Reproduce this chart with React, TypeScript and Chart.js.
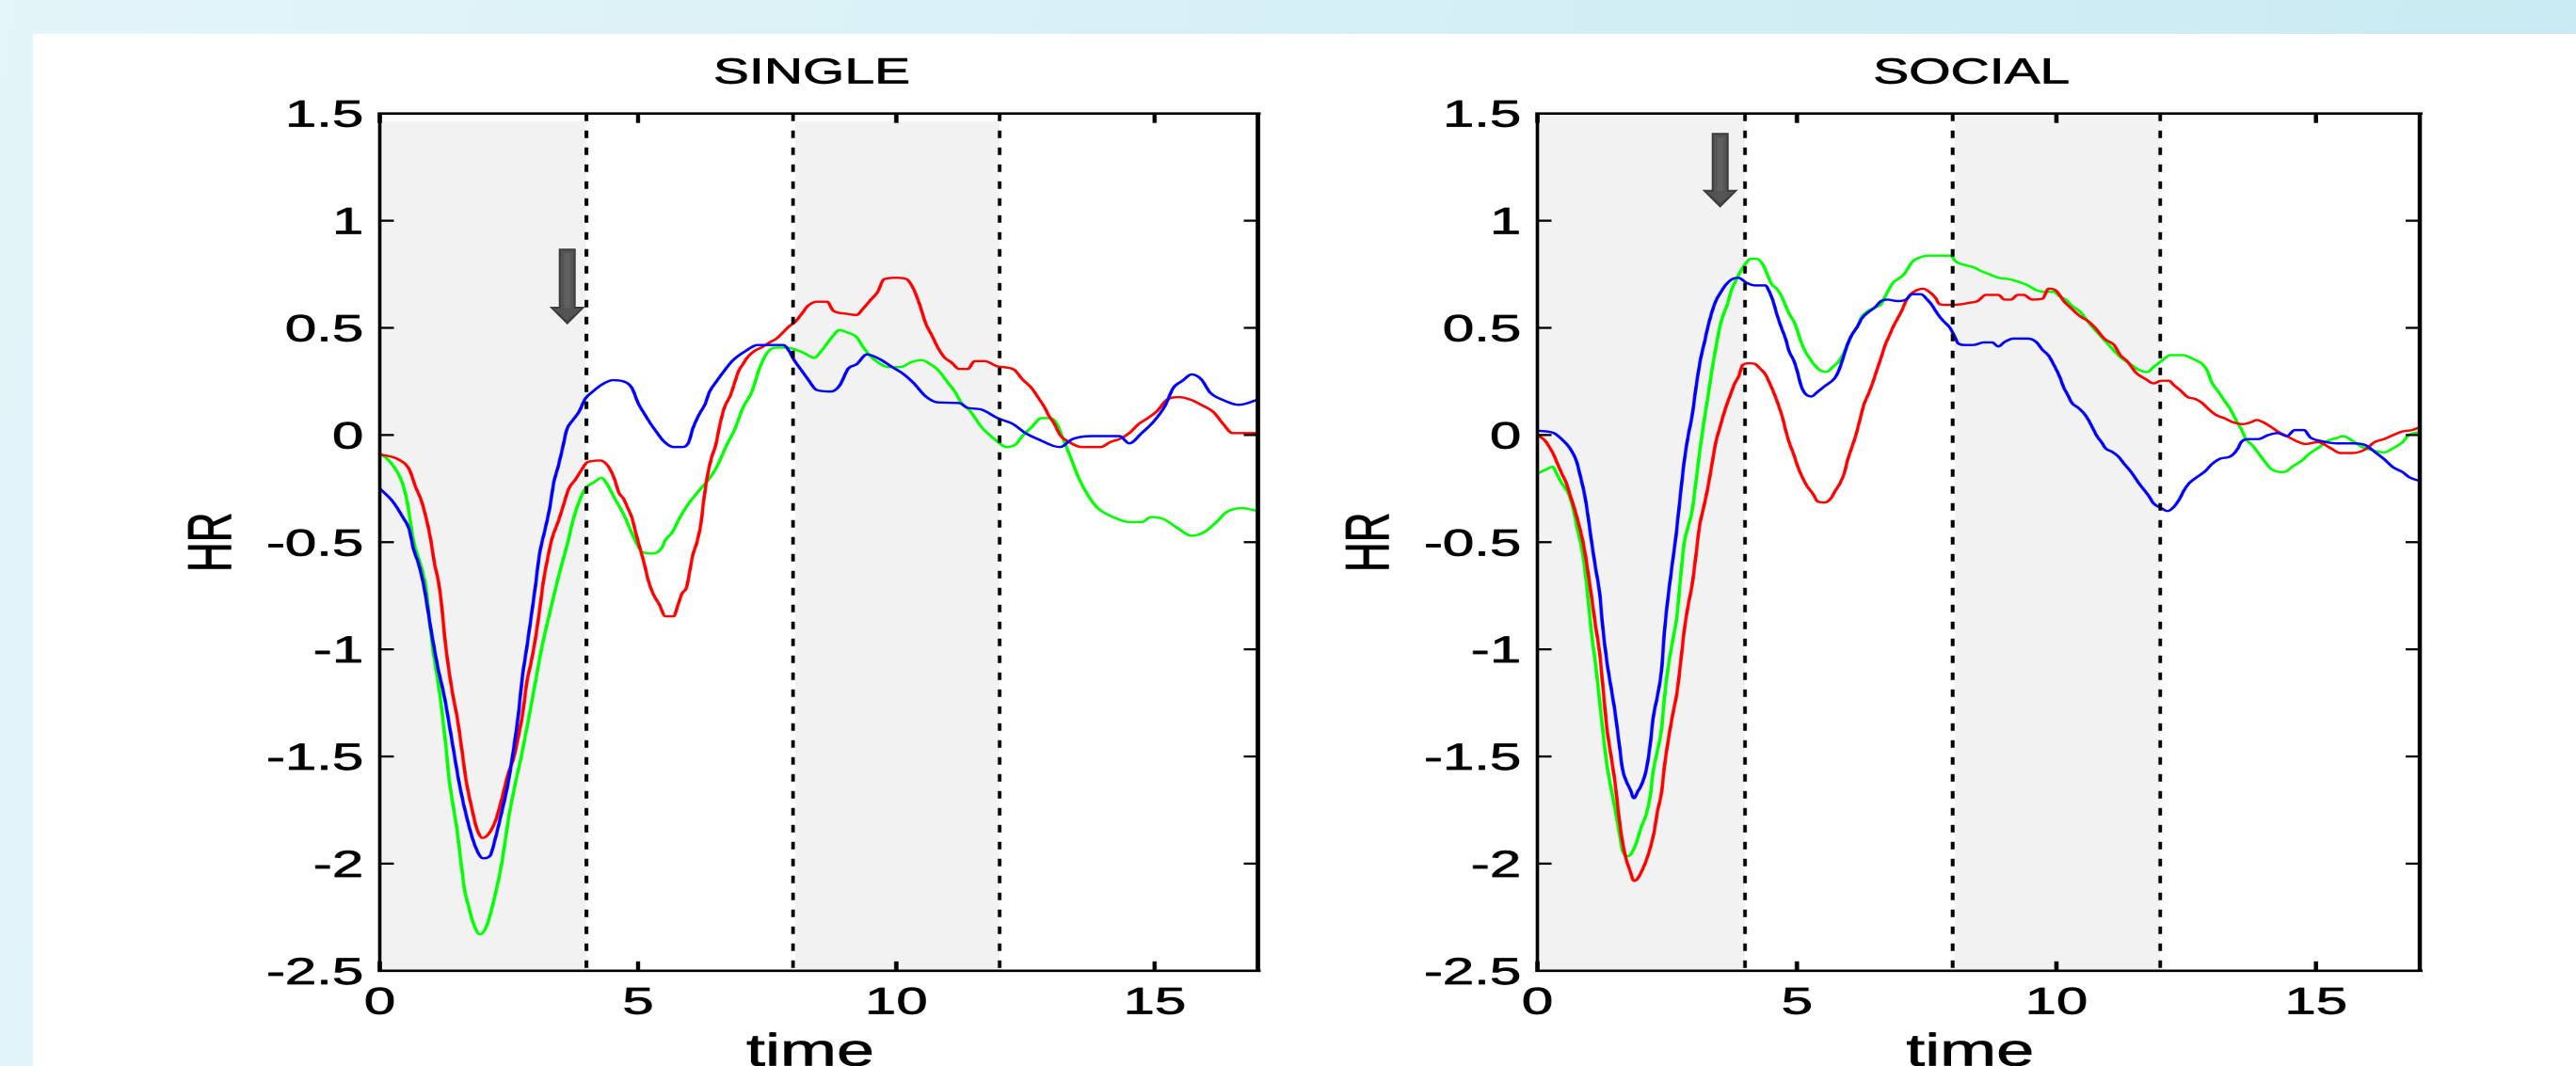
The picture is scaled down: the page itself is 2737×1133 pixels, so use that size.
import React, { useEffect, useRef } from 'react';
import { Chart, registerables } from 'chart.js';

Chart.register(...registerables);

// ---------------- data ----------------
type Pair = [number, number];

const X_TICKS = [0, 5, 10, 15];
const X_TICK_LABELS = ['0', '5', '10', '15'];
const Y_TICKS = [-2.5, -2, -1.5, -1, -0.5, 0, 0.5, 1, 1.5];
const Y_TICK_LABELS = ['-2.5', '-2', '-1.5', '-1', '-0.5', '0', '0.5', '1', '1.5'];
const X_RANGE = [0, 17];
const Y_RANGE = [-2.5, 1.5];
const PHASE_BOUNDARIES = [4, 8, 12];
const SHADED_PHASES: Pair[] = [[0, 4], [8, 12]];
const TITLES = ['SINGLE', 'SOCIAL'];
const X_LABEL = 'time';
const Y_LABEL = 'HR';
// arrow: [x, top y, tip y]
const ARROW_SINGLE = [3.63, 0.87, 0.515];
const ARROW_SOCIAL = [3.52, 1.41, 1.061];
const SHADE_TOP = [1.465, 1.49];

const singleBlue: Pair[] = [[0,-0.25],[0.25,-0.31],[0.45,-0.385],[0.57,-0.44],[0.65,-0.53],[0.75,-0.6],[0.85,-0.7],[1.0,-0.92],[1.12,-1.08],[1.25,-1.22],[1.4,-1.43],[1.55,-1.64],[1.7,-1.8],[1.85,-1.92],[2.0,-1.975],[2.13,-1.965],[2.24,-1.88],[2.36,-1.76],[2.48,-1.63],[2.6,-1.45],[2.68,-1.31],[2.76,-1.13],[2.85,-0.985],[2.93,-0.85],[3.01,-0.71],[3.09,-0.56],[3.21,-0.43],[3.29,-0.34],[3.37,-0.22],[3.45,-0.15],[3.54,-0.06],[3.62,0.025],[3.74,0.07],[3.86,0.11],[3.98,0.17],[4.11,0.2],[4.31,0.237],[4.51,0.256],[4.72,0.25],[4.88,0.22],[5.0,0.15],[5.12,0.1],[5.24,0.054],[5.37,0.01],[5.49,-0.027],[5.69,-0.056],[5.85,-0.056],[5.98,-0.034],[6.06,0.03],[6.18,0.095],[6.3,0.145],[6.38,0.2],[6.5,0.244],[6.67,0.3],[6.83,0.347],[7.07,0.39],[7.32,0.42],[7.64,0.42],[7.81,0.42],[7.93,0.39],[8.01,0.354],[8.17,0.3],[8.29,0.26],[8.46,0.21],[8.74,0.203],[8.9,0.23],[9.07,0.31],[9.23,0.33],[9.43,0.376],[9.68,0.354],[9.92,0.317],[10.12,0.288],[10.33,0.244],[10.57,0.18],[10.81,0.152],[11.22,0.149],[11.38,0.127],[11.63,0.12],[11.96,0.079],[12.26,0.051],[12.5,0.009],[12.74,-0.019],[13.17,-0.056],[13.41,-0.019],[13.78,-0.005],[14.32,-0.005],[14.51,-0.039],[14.75,0.009],[14.99,0.065],[15.2,0.135],[15.36,0.219],[15.54,0.253],[15.72,0.283],[15.9,0.261],[16.08,0.197],[16.33,0.163],[16.63,0.141],[17,0.165]];

const singleRed: Pair[] = [[0,-0.09],[0.37,-0.115],[0.57,-0.16],[0.69,-0.24],[0.81,-0.31],[0.91,-0.4],[0.98,-0.48],[1.06,-0.6],[1.14,-0.69],[1.2,-0.8],[1.26,-0.95],[1.34,-1.1],[1.42,-1.22],[1.5,-1.32],[1.59,-1.47],[1.67,-1.61],[1.79,-1.75],[1.87,-1.83],[1.99,-1.88],[2.11,-1.86],[2.24,-1.8],[2.36,-1.7],[2.48,-1.585],[2.6,-1.5],[2.68,-1.41],[2.76,-1.31],[2.85,-1.15],[2.93,-1.06],[3.01,-0.955],[3.09,-0.824],[3.17,-0.68],[3.25,-0.575],[3.33,-0.487],[3.46,-0.4],[3.54,-0.34],[3.66,-0.25],[3.78,-0.21],[3.9,-0.165],[4.0,-0.13],[4.11,-0.122],[4.27,-0.119],[4.39,-0.136],[4.47,-0.165],[4.55,-0.21],[4.63,-0.27],[4.72,-0.297],[4.8,-0.34],[4.88,-0.385],[4.96,-0.46],[5.04,-0.53],[5.12,-0.6],[5.2,-0.68],[5.29,-0.74],[5.41,-0.79],[5.53,-0.846],[5.69,-0.846],[5.77,-0.795],[5.85,-0.74],[5.94,-0.71],[5.99,-0.65],[6.06,-0.56],[6.14,-0.5],[6.22,-0.41],[6.26,-0.327],[6.34,-0.195],[6.42,-0.107],[6.5,-0.05],[6.59,0.054],[6.67,0.127],[6.79,0.186],[6.87,0.244],[6.95,0.3],[7.03,0.33],[7.11,0.36],[7.24,0.39],[7.4,0.41],[7.56,0.434],[7.68,0.45],[7.81,0.48],[7.93,0.508],[8.05,0.53],[8.17,0.566],[8.29,0.603],[8.46,0.622],[8.66,0.622],[8.78,0.58],[9.03,0.566],[9.23,0.56],[9.35,0.588],[9.51,0.632],[9.64,0.668],[9.76,0.727],[10.0,0.734],[10.2,0.727],[10.33,0.683],[10.45,0.61],[10.57,0.52],[10.69,0.464],[10.81,0.405],[10.94,0.36],[11.06,0.34],[11.22,0.308],[11.38,0.308],[11.52,0.345],[11.71,0.345],[11.96,0.32],[12.08,0.317],[12.29,0.303],[12.44,0.26],[12.62,0.219],[12.74,0.177],[12.87,0.129],[12.96,0.087],[13.05,0.056],[13.17,0.0],[13.35,-0.033],[13.59,-0.056],[13.96,-0.056],[14.14,-0.033],[14.32,-0.019],[14.51,0.009],[14.69,0.051],[14.87,0.079],[15.05,0.112],[15.23,0.163],[15.48,0.177],[15.72,0.163],[15.9,0.141],[16.14,0.107],[16.33,0.051],[16.51,0.009],[17,0.009]];

const singleGreen: Pair[] = [[0,-0.085],[0.16,-0.115],[0.28,-0.15],[0.39,-0.195],[0.47,-0.25],[0.53,-0.31],[0.59,-0.4],[0.65,-0.49],[0.73,-0.56],[0.81,-0.62],[0.9,-0.72],[0.96,-0.86],[1.04,-1.02],[1.12,-1.14],[1.2,-1.28],[1.28,-1.45],[1.34,-1.6],[1.42,-1.73],[1.5,-1.85],[1.57,-1.99],[1.64,-2.12],[1.72,-2.2],[1.8,-2.27],[1.94,-2.33],[2.07,-2.29],[2.2,-2.18],[2.36,-2.0],[2.5,-1.78],[2.62,-1.63],[2.74,-1.5],[2.9,-1.3],[3.0,-1.17],[3.13,-1.0],[3.3,-0.82],[3.45,-0.67],[3.64,-0.5],[3.75,-0.39],[3.86,-0.31],[3.98,-0.25],[4.15,-0.22],[4.29,-0.2],[4.39,-0.225],[4.55,-0.297],[4.72,-0.37],[4.88,-0.458],[4.96,-0.5],[5.08,-0.546],[5.29,-0.553],[5.45,-0.53],[5.53,-0.49],[5.65,-0.458],[5.81,-0.385],[5.98,-0.32],[6.18,-0.26],[6.42,-0.19],[6.55,-0.136],[6.71,-0.05],[6.87,0.025],[7.03,0.127],[7.2,0.2],[7.36,0.317],[7.52,0.39],[7.68,0.408],[7.88,0.408],[8.05,0.398],[8.21,0.383],[8.41,0.36],[8.54,0.39],[8.66,0.427],[8.78,0.464],[8.9,0.49],[9.03,0.48],[9.23,0.457],[9.35,0.413],[9.47,0.376],[9.6,0.347],[9.84,0.317],[10.08,0.317],[10.29,0.34],[10.49,0.35],[10.65,0.332],[10.81,0.303],[10.98,0.25],[11.14,0.2],[11.26,0.149],[11.42,0.115],[11.65,0.037],[11.9,-0.019],[12.14,-0.056],[12.32,-0.042],[12.44,-0.005],[12.62,0.037],[12.81,0.079],[12.99,0.079],[13.11,0.051],[13.23,-0.019],[13.35,-0.089],[13.53,-0.2],[13.72,-0.285],[13.9,-0.341],[14.2,-0.383],[14.51,-0.406],[14.75,-0.406],[14.93,-0.383],[15.17,-0.392],[15.42,-0.43],[15.72,-0.47],[15.96,-0.453],[16.21,-0.403],[16.39,-0.36],[16.69,-0.341],[17,-0.355]];

const socialBlue: Pair[] = [[0,0.02],[0.31,0.01],[0.47,-0.02],[0.63,-0.063],[0.75,-0.12],[0.83,-0.195],[0.91,-0.28],[0.97,-0.37],[1.05,-0.51],[1.12,-0.62],[1.2,-0.74],[1.26,-0.9],[1.34,-1.06],[1.42,-1.18],[1.5,-1.3],[1.58,-1.45],[1.64,-1.56],[1.72,-1.62],[1.79,-1.655],[1.86,-1.695],[1.93,-1.665],[2.0,-1.635],[2.09,-1.57],[2.17,-1.45],[2.23,-1.32],[2.31,-1.22],[2.39,-1.1],[2.45,-0.91],[2.53,-0.73],[2.61,-0.58],[2.67,-0.47],[2.75,-0.29],[2.83,-0.12],[2.9,-0.01],[2.98,0.09],[3.06,0.23],[3.14,0.35],[3.22,0.435],[3.28,0.5],[3.37,0.58],[3.45,0.632],[3.53,0.665],[3.62,0.698],[3.75,0.727],[3.87,0.734],[4.03,0.71],[4.19,0.698],[4.39,0.698],[4.47,0.668],[4.54,0.625],[4.61,0.566],[4.69,0.508],[4.78,0.45],[4.85,0.39],[4.94,0.347],[5.0,0.303],[5.08,0.23],[5.16,0.193],[5.28,0.18],[5.39,0.2],[5.53,0.227],[5.73,0.266],[5.81,0.303],[5.89,0.36],[5.97,0.42],[6.05,0.464],[6.17,0.508],[6.25,0.544],[6.38,0.574],[6.5,0.595],[6.62,0.625],[6.74,0.632],[6.94,0.625],[7.1,0.632],[7.22,0.657],[7.39,0.657],[7.51,0.632],[7.59,0.61],[7.67,0.58],[7.75,0.552],[7.83,0.53],[7.95,0.5],[8.03,0.464],[8.11,0.427],[8.24,0.42],[8.4,0.42],[8.6,0.432],[8.76,0.432],[8.88,0.413],[9.0,0.434],[9.17,0.45],[9.45,0.45],[9.61,0.434],[9.73,0.398],[9.85,0.37],[9.94,0.332],[10.06,0.273],[10.14,0.222],[10.22,0.186],[10.3,0.149],[10.42,0.127],[10.54,0.098],[10.62,0.069],[10.7,0.032],[10.78,-0.005],[10.87,-0.034],[10.95,-0.063],[11.07,-0.078],[11.19,-0.1],[11.31,-0.136],[11.43,-0.17],[11.6,-0.229],[11.78,-0.285],[11.87,-0.319],[12.02,-0.341],[12.14,-0.355],[12.26,-0.336],[12.37,-0.299],[12.46,-0.257],[12.56,-0.224],[12.68,-0.201],[12.87,-0.168],[12.99,-0.137],[13.17,-0.109],[13.32,-0.103],[13.41,-0.089],[13.5,-0.061],[13.56,-0.033],[13.71,-0.019],[13.89,-0.019],[14.08,0.0],[14.26,0.009],[14.44,-0.005],[14.59,0.023],[14.77,0.023],[14.89,-0.011],[15.1,-0.028],[15.4,-0.039],[15.71,-0.039],[15.95,-0.047],[16.16,-0.084],[16.31,-0.112],[16.49,-0.151],[16.67,-0.173],[16.79,-0.196],[17,-0.215]];

const socialRed: Pair[] = [[0,0.0],[0.15,-0.027],[0.23,-0.056],[0.31,-0.09],[0.39,-0.136],[0.47,-0.18],[0.55,-0.22],[0.63,-0.28],[0.71,-0.34],[0.79,-0.41],[0.87,-0.49],[0.95,-0.6],[1.04,-0.75],[1.12,-0.89],[1.2,-1.02],[1.26,-1.17],[1.34,-1.37],[1.42,-1.5],[1.5,-1.63],[1.57,-1.78],[1.64,-1.9],[1.71,-1.98],[1.78,-2.03],[1.86,-2.08],[1.93,-2.07],[2.0,-2.04],[2.09,-1.99],[2.17,-1.93],[2.25,-1.85],[2.31,-1.76],[2.39,-1.67],[2.45,-1.54],[2.53,-1.41],[2.61,-1.3],[2.69,-1.2],[2.76,-1.06],[2.83,-0.91],[2.9,-0.8],[2.98,-0.7],[3.06,-0.55],[3.12,-0.43],[3.2,-0.34],[3.28,-0.25],[3.36,-0.14],[3.44,-0.03],[3.51,0.03],[3.58,0.09],[3.66,0.15],[3.73,0.195],[3.8,0.24],[3.88,0.275],[3.95,0.325],[4.07,0.335],[4.19,0.332],[4.29,0.31],[4.39,0.284],[4.47,0.244],[4.55,0.2],[4.63,0.149],[4.72,0.083],[4.78,0.025],[4.85,-0.034],[4.94,-0.092],[5.02,-0.15],[5.1,-0.195],[5.2,-0.24],[5.31,-0.275],[5.4,-0.31],[5.53,-0.315],[5.65,-0.297],[5.74,-0.26],[5.83,-0.225],[5.91,-0.18],[5.97,-0.122],[6.05,-0.063],[6.13,-0.005],[6.21,0.068],[6.29,0.142],[6.38,0.193],[6.46,0.244],[6.54,0.303],[6.62,0.36],[6.7,0.42],[6.78,0.464],[6.86,0.508],[6.94,0.544],[7.02,0.58],[7.1,0.625],[7.18,0.654],[7.31,0.676],[7.43,0.683],[7.55,0.668],[7.67,0.64],[7.75,0.61],[7.91,0.607],[8.16,0.61],[8.32,0.617],[8.48,0.625],[8.64,0.654],[8.88,0.654],[9.0,0.632],[9.13,0.632],[9.25,0.654],[9.37,0.654],[9.53,0.632],[9.73,0.636],[9.85,0.683],[9.98,0.676],[10.06,0.654],[10.14,0.625],[10.26,0.597],[10.45,0.555],[10.6,0.533],[10.75,0.499],[10.93,0.448],[11.11,0.42],[11.23,0.373],[11.36,0.345],[11.54,0.289],[11.72,0.261],[11.87,0.241],[12.02,0.253],[12.17,0.253],[12.26,0.233],[12.38,0.21],[12.53,0.177],[12.68,0.168],[12.81,0.149],[12.93,0.121],[13.08,0.093],[13.23,0.079],[13.41,0.059],[13.59,0.051],[13.74,0.059],[13.86,0.07],[14.01,0.056],[14.14,0.037],[14.26,0.017],[14.44,-0.005],[14.62,-0.028],[14.8,-0.042],[15.04,-0.033],[15.28,-0.061],[15.47,-0.084],[15.71,-0.084],[15.95,-0.067],[16.13,-0.033],[16.31,-0.019],[16.49,0.0],[16.67,0.017],[16.85,0.023],[17,0.037]];

const socialGreen: Pair[] = [[0,-0.18],[0.19,-0.158],[0.29,-0.148],[0.37,-0.18],[0.45,-0.217],[0.53,-0.246],[0.61,-0.28],[0.7,-0.356],[0.76,-0.43],[0.83,-0.5],[0.9,-0.6],[0.97,-0.75],[1.04,-0.92],[1.12,-1.07],[1.18,-1.2],[1.26,-1.38],[1.34,-1.54],[1.42,-1.65],[1.5,-1.75],[1.58,-1.86],[1.64,-1.94],[1.75,-1.965],[1.86,-1.93],[1.93,-1.885],[2.0,-1.83],[2.09,-1.775],[2.17,-1.69],[2.23,-1.57],[2.31,-1.475],[2.39,-1.375],[2.45,-1.22],[2.53,-1.065],[2.61,-0.955],[2.69,-0.84],[2.76,-0.66],[2.83,-0.5],[2.9,-0.43],[2.98,-0.355],[3.04,-0.245],[3.12,-0.09],[3.2,0.05],[3.28,0.17],[3.36,0.3],[3.44,0.41],[3.51,0.5],[3.58,0.56],[3.66,0.61],[3.73,0.67],[3.8,0.71],[3.88,0.749],[3.99,0.793],[4.11,0.822],[4.23,0.822],[4.35,0.793],[4.43,0.749],[4.51,0.705],[4.61,0.683],[4.69,0.654],[4.77,0.61],[4.85,0.566],[4.94,0.53],[5.0,0.493],[5.08,0.434],[5.16,0.39],[5.24,0.36],[5.32,0.332],[5.44,0.303],[5.57,0.295],[5.69,0.317],[5.79,0.34],[5.89,0.376],[5.97,0.42],[6.05,0.464],[6.17,0.508],[6.25,0.552],[6.38,0.58],[6.5,0.595],[6.62,0.61],[6.7,0.647],[6.78,0.683],[6.86,0.713],[6.94,0.727],[7.06,0.749],[7.14,0.778],[7.22,0.808],[7.35,0.827],[7.55,0.837],[7.95,0.837],[8.07,0.808],[8.24,0.793],[8.4,0.783],[8.56,0.764],[8.72,0.749],[8.88,0.734],[9.09,0.727],[9.29,0.713],[9.45,0.698],[9.61,0.676],[9.77,0.668],[9.94,0.668],[10.06,0.647],[10.18,0.632],[10.3,0.603],[10.45,0.577],[10.66,0.513],[10.87,0.457],[11.05,0.409],[11.23,0.364],[11.42,0.331],[11.6,0.303],[11.75,0.294],[11.87,0.317],[12.02,0.345],[12.2,0.373],[12.44,0.373],[12.65,0.353],[12.81,0.331],[12.9,0.303],[12.99,0.247],[13.11,0.205],[13.23,0.163],[13.35,0.121],[13.47,0.065],[13.56,0.028],[13.65,-0.019],[13.77,-0.047],[13.89,-0.084],[14.01,-0.123],[14.14,-0.159],[14.38,-0.173],[14.56,-0.145],[14.74,-0.117],[14.86,-0.089],[15.04,-0.061],[15.22,-0.028],[15.4,-0.014],[15.52,-0.005],[15.71,-0.028],[15.89,-0.056],[16.07,-0.07],[16.31,-0.081],[16.49,-0.061],[16.67,-0.033],[16.79,0.0],[17,0.014]];

// ---------------- styling / layout ----------------
const FONT = "'Liberation Sans', Arial, Helvetica, sans-serif";
const STRETCH = 1.5; // the source figure is stretched horizontally
const CANVAS_W = 912;
const CANVAS_H = 1133;
const COLORS = { blue: '#0000ff', red: '#ff0000', green: '#00ff00' };

interface PanelSpec {
  title: string;
  blue: Pair[];
  red: Pair[];
  green: Pair[];
  arrow: number[];
  shadeTop: number;
  cssLeft: number;
  pad: { left: number; right: number; top: number; bottom: number };
}

const PANELS: PanelSpec[] = [
  { title: TITLES[0], blue: singleBlue, red: singleRed, green: singleGreen, arrow: ARROW_SINGLE, shadeTop: SHADE_TOP[0], cssLeft: 0,
    pad: { left: 269, right: 21, top: 120.7, bottom: 101.2 } },
  { title: TITLES[1], blue: socialBlue, red: socialRed, green: socialGreen, arrow: ARROW_SOCIAL, shadeTop: SHADE_TOP[1], cssLeft: 1368,
    pad: { left: 177, right: 110, top: 120.7, bottom: 101.2 } },
];

const toPts = (arr: Pair[]) => arr.map(([x, y]) => ({ x, y }));

function line(ctx: CanvasRenderingContext2D, x0: number, y0: number, x1: number, y1: number) {
  ctx.beginPath();
  ctx.moveTo(x0, y0);
  ctx.lineTo(x1, y1);
  ctx.stroke();
}

function text(ctx: CanvasRenderingContext2D, s: string, x: number, y: number) {
  ctx.fillText(s, x, y);
  ctx.strokeText(s, x, y);
}

function decorPlugin(spec: PanelSpec) {
  return {
    id: 'decor',
    beforeDatasetsDraw(chart: any) {
      const { ctx, chartArea: ca } = chart;
      const xs = chart.scales.x, ys = chart.scales.y;
      ctx.save();
      ctx.fillStyle = '#f2f2f2';
      const yt = ys.getPixelForValue(spec.shadeTop);
      SHADED_PHASES.forEach(([a, b]) => {
        const x0 = xs.getPixelForValue(a) + 1.5;
        const x1 = xs.getPixelForValue(b);
        ctx.fillRect(x0, yt, x1 - x0, ca.bottom - yt);
      });
      ctx.restore();
    },
    afterDatasetsDraw(chart: any) {
      const { ctx, chartArea: ca } = chart;
      const xs = chart.scales.x, ys = chart.scales.y;
      ctx.save();

      // dashed phase boundaries
      ctx.strokeStyle = '#000';
      ctx.lineWidth = 2.6;
      ctx.setLineDash([8, 10]);
      PHASE_BOUNDARIES.forEach((v) => {
        const px = xs.getPixelForValue(v);
        line(ctx, px, ca.top, px, ca.bottom);
      });
      ctx.setLineDash([]);

      // arrow marker
      const ax = xs.getPixelForValue(spec.arrow[0]);
      const aTop = ys.getPixelForValue(spec.arrow[1]);
      const aTip = ys.getPixelForValue(spec.arrow[2]);
      const headLen = 19, shaftHalf = 6, headHalf = 12.7;
      ctx.fillStyle = '#3c3c3c';
      ctx.beginPath();
      ctx.moveTo(ax - shaftHalf, aTop);
      ctx.lineTo(ax + shaftHalf, aTop);
      ctx.lineTo(ax + shaftHalf, aTip - headLen);
      ctx.lineTo(ax + headHalf, aTip - headLen);
      ctx.lineTo(ax, aTip);
      ctx.lineTo(ax - headHalf, aTip - headLen);
      ctx.lineTo(ax - shaftHalf, aTip - headLen);
      ctx.closePath();
      ctx.fill();
      ctx.fillStyle = '#545454';
      ctx.beginPath();
      ctx.moveTo(ax - shaftHalf + 1.4, aTop + 2);
      ctx.lineTo(ax + shaftHalf - 1.4, aTop + 2);
      ctx.lineTo(ax + shaftHalf - 1.4, aTip - headLen + 2);
      ctx.lineTo(ax + headHalf - 3, aTip - headLen + 2);
      ctx.lineTo(ax, aTip - 4);
      ctx.lineTo(ax - headHalf + 3, aTip - headLen + 2);
      ctx.lineTo(ax - shaftHalf + 1.4, aTip - headLen + 2);
      ctx.closePath();
      ctx.fill();
      ctx.fillStyle = '#606060';
      ctx.fillRect(ax - 2.2, aTop + 5, 4.4, aTip - headLen - aTop - 4);

      // frame
      ctx.strokeStyle = '#000';
      ctx.lineWidth = 2.7;
      line(ctx, ca.left - 1.5, ca.top, ca.right + 2, ca.top);
      line(ctx, ca.left - 1.5, ca.bottom, ca.right + 2, ca.bottom);
      ctx.lineWidth = 2.4;
      line(ctx, ca.left, ca.top, ca.left, ca.bottom);
      ctx.lineWidth = 3.1;
      line(ctx, ca.right, ca.top, ca.right, ca.bottom);

      // inward tick marks
      ctx.lineWidth = 2.3;
      Y_TICKS.forEach((v) => {
        const py = ys.getPixelForValue(v);
        line(ctx, ca.left, py, ca.left + 10, py);
        line(ctx, ca.right - 10, py, ca.right, py);
      });
      ctx.lineWidth = 3;
      X_TICKS.forEach((v) => {
        const px = xs.getPixelForValue(v);
        line(ctx, px, ca.bottom, px, ca.bottom - 10);
        line(ctx, px, ca.top, px, ca.top + 10);
      });

      // tick labels
      ctx.fillStyle = '#000';
      ctx.strokeStyle = '#000';
      ctx.lineWidth = 0.7;
      ctx.lineJoin = 'round';
      ctx.font = `40px ${FONT}`;
      ctx.textBaseline = 'alphabetic';
      ctx.textAlign = 'right';
      Y_TICKS.forEach((v, i) => {
        const py = ys.getPixelForValue(v);
        text(ctx, Y_TICK_LABELS[i], ca.left - 11.5, py + 14);
      });
      ctx.textAlign = 'center';
      X_TICKS.forEach((v, i) => {
        const px = xs.getPixelForValue(v);
        text(ctx, X_TICK_LABELS[i], px, ca.bottom + 45.5);
      });

      // title
      const cx = (ca.left + ca.right) / 2;
      ctx.font = `38px ${FONT}`;
      text(ctx, spec.title, cx - 5, 88.5);

      // x label
      ctx.font = `48px ${FONT}`;
      text(ctx, X_LABEL, cx - 6, 1132.5);

      // y label
      ctx.save();
      ctx.translate(ca.left - 121, (ca.top + ca.bottom) / 2);
      ctx.rotate(-Math.PI / 2);
      ctx.font = `44px ${FONT}`;
      ctx.textAlign = 'center';
      text(ctx, Y_LABEL, 0, 15.5);
      ctx.restore();

      ctx.restore();
    },
  };
}

function Panel({ spec }: { spec: PanelSpec }) {
  const ref = useRef<HTMLCanvasElement>(null);
  useEffect(() => {
    const canvas = ref.current;
    if (!canvas) return;
    const mk = (label: string, data: Pair[], color: string) => ({
      label,
      data: toPts(data),
      borderColor: color,
      backgroundColor: color,
      borderWidth: 2.4,
      pointRadius: 0,
      fill: false,
      cubicInterpolationMode: 'monotone' as const,
    });
    const chart = new Chart(canvas, {
      type: 'line',
      data: {
        datasets: [
          mk('blue', spec.blue, COLORS.blue),
          mk('red', spec.red, COLORS.red),
          mk('green', spec.green, COLORS.green),
        ],
      },
      options: {
        animation: false,
        responsive: false,
        devicePixelRatio: 2,
        events: [],
        layout: { padding: spec.pad },
        plugins: {
          legend: { display: false },
          tooltip: { enabled: false },
          title: { display: false },
        },
        scales: {
          x: { type: 'linear', min: X_RANGE[0], max: X_RANGE[1], display: false },
          y: { type: 'linear', min: Y_RANGE[0], max: Y_RANGE[1], display: false },
        },
      },
      plugins: [decorPlugin(spec)],
    } as any);
    return () => chart.destroy();
  }, [spec]);
  return (
    <canvas
      ref={ref}
      width={CANVAS_W}
      height={CANVAS_H}
      style={{ position: 'absolute', left: spec.cssLeft, top: 0, width: CANVAS_W * STRETCH, height: CANVAS_H }}
    />
  );
}

export default function App() {
  useEffect(() => {
    document.body.style.margin = '0';
  }, []);
  return (
    <div
      style={{
        position: 'absolute',
        left: 0,
        top: 0,
        width: 2737,
        height: 1133,
        overflow: 'hidden',
        background: 'linear-gradient(100deg, #e4f5fa 0%, #d6f0f6 45%, #c8eaf2 100%)',
      }}
    >
      <div style={{ position: 'absolute', left: 35, top: 36, width: 2702, height: 1097, background: '#ffffff' }} />
      {PANELS.map((p, i) => (
        <Panel key={i} spec={p} />
      ))}
    </div>
  );
}
